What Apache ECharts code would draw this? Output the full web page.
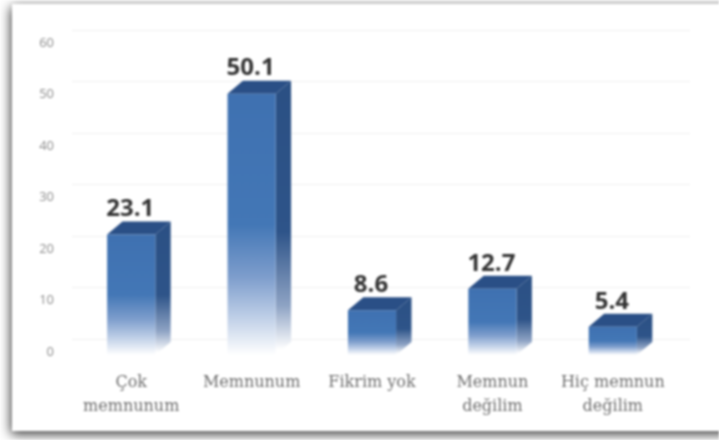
<!DOCTYPE html>
<html><head><meta charset="utf-8">
<style>html,body{margin:0;padding:0;background:#ffffff;overflow:hidden}#c{width:719px;height:440px;filter:blur(0.8px)}</style>
<script src="https://cdn.jsdelivr.net/npm/echarts@6/dist/echarts.min.js"></script>
</head><body><div id="c"></div>
<script>
const categories = ['Çok\nmemnunum','Memnunum','Fikrim yok','Memnun\ndeğilim','Hiç memnun\ndeğilim'];
const values = [23.1,50.1,8.6,12.7,5.4];
const yTicks = {min:0,max:60,interval:10};

function fade(stops){
  return {type:'linear',x:0,y:0,x2:0,y2:1,colorStops:stops};
}
function renderBar(params, api){
  const i = api.value(0), v = api.value(1);
  const top = api.coord([i,v]), base = api.coord([i,0]);
  const w = api.size([1,0])[0]*0.4;
  const dx = w*0.32, dy = w*0.27;
  const l = top[0]-w/2, r = top[0]+w/2, t = top[1], b = base[1];
  return {type:'group',children:[
    {type:'polygon',shape:{points:[[r,t],[r+dx,t-dy],[r+dx,b-dy],[r,b]]},
     style:{fill:fade([{offset:0,color:'#2b5084'},{offset:.55,color:'#2e5489'},{offset:.82,color:'#8ea3c4'},{offset:.98,color:'#ffffff'}])}},
    {type:'polygon',shape:{points:[[l,t],[l+dx,t-dy],[r+dx,t-dy],[r,t]]},style:{fill:'#2a4f86'}},
    {type:'rect',shape:{x:l,y:t,width:w,height:b-t},
     style:{fill:fade([{offset:0,color:'#3f71b1'},{offset:.5,color:'#4377b6'},{offset:.7,color:'#7d9dcc'},{offset:.85,color:'#bccde6'},{offset:1,color:'#ffffff'}])}},
    {type:'text',style:{text:String(v),x:top[0]-1,y:t-dy,align:'center',verticalAlign:'bottom',
      font:'bold 24px "Open Sans"',fill:'#333333'}}
  ]};
}
const chart = echarts.init(document.getElementById('c'),null,{renderer:'canvas'});
chart.setOption({
  animation:false,
  backgroundColor:'#ffffff',
  graphic:[{type:'rect',z:-10,shape:{x:12,y:4,width:740,height:427},
    style:{fill:'#ffffff',shadowBlur:11,shadowColor:'rgba(0,0,0,.8)',shadowOffsetX:-1,shadowOffsetY:3}}],
  grid:[
    {left:71,right:46,top:43,bottom:88},
    {left:72,right:29,top:30,bottom:101},
    {left:71,right:46,top:42,bottom:85}
  ],
  xAxis:[
    {type:'category',gridIndex:0,data:categories,axisLine:{show:false},axisTick:{show:false},
     axisLabel:{interval:0,margin:19,fontFamily:'DejaVu Serif',fontSize:16,lineHeight:24,color:'#6f6f6f'}},
    {type:'category',gridIndex:1,show:false,data:categories},
    {type:'category',gridIndex:2,show:false,data:categories}
  ],
  yAxis:[
    {type:'value',gridIndex:0,min:yTicks.min,max:yTicks.max,interval:yTicks.interval,axisLine:{show:false},axisTick:{show:false},
     splitLine:{show:false},axisLabel:{margin:17,padding:[4,0,0,0],fontFamily:'Open Sans',fontSize:13,color:'#8c8c8c'}},
    {type:'value',gridIndex:1,min:yTicks.min,max:yTicks.max,interval:yTicks.interval,axisLine:{show:false},axisTick:{show:false},
     axisLabel:{show:false},splitLine:{show:true,lineStyle:{color:'#f0f0f0',width:1}}},
    {type:'value',gridIndex:2,show:false,min:yTicks.min,max:yTicks.max,interval:yTicks.interval,splitLine:{show:false}}
  ],
  series:[{type:'custom',xAxisIndex:2,yAxisIndex:2,renderItem:renderBar,clip:false,
    encode:{x:0,y:1},data:values.map((v,i)=>[i,v])}]
});
</script></body></html>
